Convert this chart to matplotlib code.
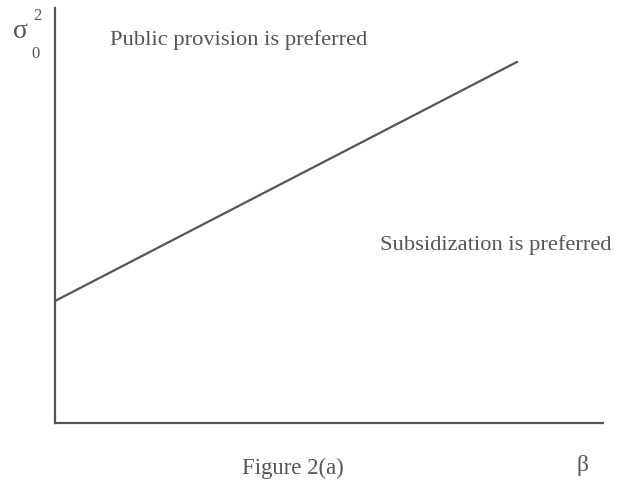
import matplotlib
matplotlib.use("Agg")
import matplotlib.pyplot as plt

# Boundary between the two regimes in (beta, sigma_0^2) space
beta = [0.0, 0.843]
sigma0_sq = [0.294, 0.870]

region_labels = ["Public provision is preferred", "Subsidization is preferred"]
caption = "Figure 2(a)"

ink = "#555555"
plt.rcParams["font.family"] = ["Liberation Serif", "DejaVu Serif"]

fig = plt.figure(figsize=(6.18, 4.82), dpi=100)
ax = fig.add_axes([55 / 618, 59 / 482, 548 / 618, 415 / 482])
ax.plot(beta, sigma0_sq, color=ink, lw=1.6)
ax.set_xlim(0, 1)
ax.set_ylim(0, 1)
for side in ("top", "right"):
    ax.spines[side].set_visible(False)
for side in ("left", "bottom"):
    ax.spines[side].set_color(ink)
    ax.spines[side].set_linewidth(1.6)
ax.set_xticks([])
ax.set_yticks([])

fs = 16.2
fig.text(110 / 618, 1 - 40 / 482, region_labels[0], color=ink, fontsize=fs, va="center", ha="left")
fig.text(612 / 618, 1 - 245 / 482, region_labels[1], color=ink, fontsize=fs, va="center", ha="right")
fig.text(293 / 618, 1 - 468 / 482, caption, color=ink, fontsize=16.4, va="center", ha="center")
fig.text(583 / 618, 1 - 466 / 482, "β", color=ink, fontsize=17, va="center", ha="center")
fig.text(20 / 618, 1 - 31 / 482, "σ", color=ink, fontsize=20, va="center", ha="center")
fig.text(37 / 618, 1 - 16 / 482, "2", color=ink, fontsize=12, va="center", ha="center")
fig.text(36 / 618, 1 - 54 / 482, "0", color=ink, fontsize=12, va="center", ha="center")

fig.savefig("out.png", dpi=100)
